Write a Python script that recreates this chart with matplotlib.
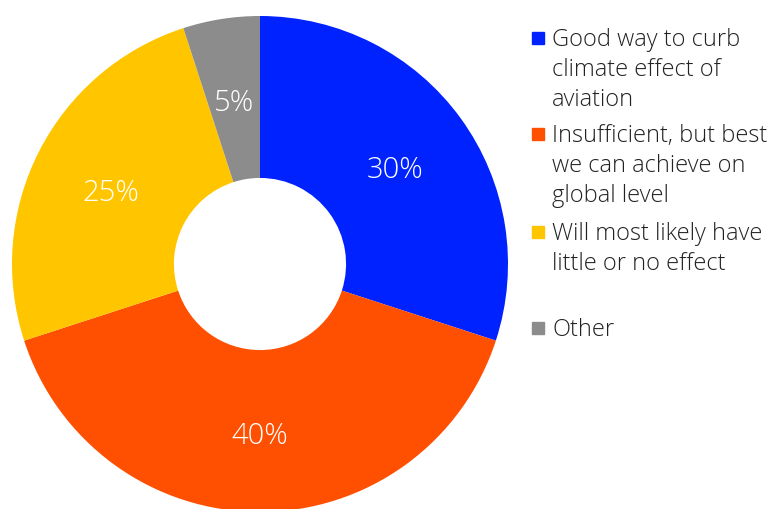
import matplotlib
matplotlib.use("Agg")
import matplotlib.pyplot as plt
from matplotlib.patches import Rectangle

# survey answers, clockwise from 12 o'clock
categories = [
    "Good way to curb\nclimate effect of\naviation",
    "Insufficient, but best\nwe can achieve on\nglobal level",
    "Will most likely have\nlittle or no effect",
    "Other",
]
shares = [30, 40, 25, 5]
colors = ["#0022ff", "#ff4f00", "#ffc600", "#8c8c8c"]

W, H = 771, 509
fig = plt.figure(figsize=(W / 100, H / 100), dpi=100)

cx, cy, r = 260, 264, 248
ax = fig.add_axes([(cx - r) / W, (H - cy - r) / H, 2 * r / W, 2 * r / H])
wedges, _, autotexts = ax.pie(
    shares, colors=colors, startangle=90, counterclock=False,
    radius=1, wedgeprops=dict(width=0.653, linewidth=0),
    autopct="%d%%", pctdistance=0.675,
    textprops=dict(color="white", fontsize=21, family="Open Sans", weight="light"),
)
# nudge the percentages down a little so they sit centred in the ring
for t in autotexts:
    x, y = t.get_position()
    t.set_position((x, y - 0.02))
ax.set_xlim(-1, 1)
ax.set_ylim(-1, 1)
ax.set_aspect("equal")
ax.axis("off")

# hand-made legend on the right
legend_y = [38, 134, 232, 328]
for name, col, y in zip(categories, colors, legend_y):
    fig.patches.append(Rectangle(((532) / W, 1 - (y + 6) / H), 12 / W, 12 / H,
                                 transform=fig.transFigure, color=col))
    fig.text(552 / W, 1 - (y - 10) / H, name, fontsize=17, family="Open Sans",
             weight="light", color="#222222", va="top", linespacing=1.32)

fig.savefig("out.png", dpi=100)
